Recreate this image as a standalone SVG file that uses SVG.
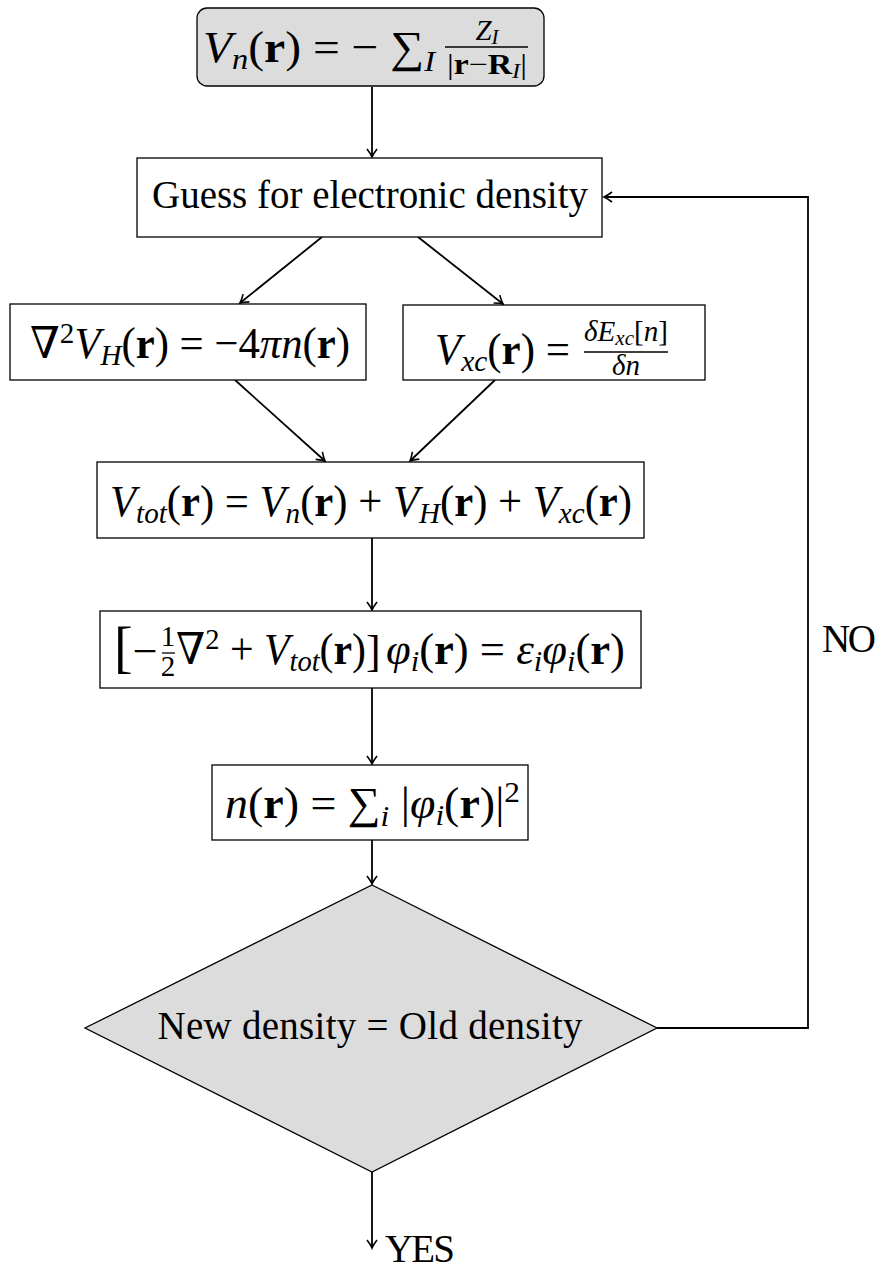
<svg xmlns="http://www.w3.org/2000/svg" width="880" height="1268" viewBox="0 0 880 1268">
<style>
.box{fill:#fff;stroke:#000;stroke-width:1.3}
.gray{fill:#dcdcdc;stroke:#000;stroke-width:1.3}
.t{font-family:"Liberation Serif","DejaVu Serif",serif;font-size:39px;fill:#000}
.m{font-family:"Liberation Serif","DejaVu Serif",serif;font-size:44px;fill:#000}
.f{font-family:"Liberation Serif","DejaVu Serif",serif;font-size:29px;fill:#000}
.i{font-style:italic}
.b{font-weight:bold}
.s{font-size:30px}
.ss{font-size:21px}
.c{stroke:#000;stroke-width:1.8;fill:none}
.fl{stroke:#000;stroke-width:1.3}
</style>
<defs>
<marker id="ah" markerUnits="userSpaceOnUse" markerWidth="14" markerHeight="14" viewBox="-10 -7 12 14" refX="0" refY="0" orient="auto" overflow="visible">
<path d="M-8,-5 Q-3,-1.2 0,0 Q-3,1.2 -8,5" fill="none" stroke="#000" stroke-width="1.6"/>
</marker>
</defs>

<g id="connectors">
<line class="c" x1="372" y1="87" x2="372" y2="157" marker-end="url(#ah)"/>
<line class="c" x1="322" y1="237" x2="240" y2="303" marker-end="url(#ah)"/>
<line class="c" x1="418" y1="237" x2="503" y2="304" marker-end="url(#ah)"/>
<line class="c" x1="235" y1="380" x2="325" y2="461" marker-end="url(#ah)"/>
<line class="c" x1="495" y1="380" x2="410" y2="461" marker-end="url(#ah)"/>
<line class="c" x1="372" y1="538" x2="372" y2="610" marker-end="url(#ah)"/>
<line class="c" x1="372" y1="688" x2="372" y2="764" marker-end="url(#ah)"/>
<line class="c" x1="372" y1="840" x2="372" y2="884" marker-end="url(#ah)"/>
<polyline class="c" points="657,1028 808,1028 808,197 604,197" marker-end="url(#ah)"/>
<line class="c" x1="372" y1="1172" x2="372" y2="1248" marker-end="url(#ah)"/>
<text class="t" x="822" y="652" textLength="54">NO</text>
<text class="t" x="385" y="1262" textLength="70">YES</text>
</g>

<g id="n1">
<rect class="gray" x="197" y="8" width="347" height="78" rx="10"/>
<text class="m" x="203" y="62" font-size="42" textLength="232" lengthAdjust="spacingAndGlyphs"><tspan class="i">V</tspan><tspan class="i s" dy="7">n</tspan><tspan dy="-7">(</tspan><tspan class="b">r</tspan><tspan>) = − ∑</tspan><tspan class="i s" dy="9">I</tspan></text>
<text class="f" x="487" y="40" text-anchor="middle"><tspan class="i">Z</tspan><tspan class="i ss" dy="4">I</tspan></text>
<line class="fl" x1="445" y1="47" x2="528" y2="47"/>
<text class="f" x="487" y="74" text-anchor="middle" textLength="80" lengthAdjust="spacingAndGlyphs">|<tspan class="b">r</tspan>−<tspan class="b">R</tspan><tspan class="i ss" dy="4">I</tspan><tspan dy="-4">|</tspan></text>
</g>

<g id="n2">
<rect class="box" x="137" y="158" width="465" height="79"/>
<text class="t" x="370" y="208" text-anchor="middle" textLength="436">Guess for electronic density</text>
</g>

<g id="n3">
<rect class="box" x="10" y="304" width="356" height="76"/>
<text class="m" x="30" y="358" textLength="320" lengthAdjust="spacingAndGlyphs">∇<tspan class="s" dy="-15">2</tspan><tspan class="i" dy="15">V</tspan><tspan class="i s" dy="7">H</tspan><tspan dy="-7">(</tspan><tspan class="b">r</tspan>) = −4<tspan class="i">πn</tspan>(<tspan class="b">r</tspan>)</text>
</g>

<g id="n4">
<rect class="box" x="403" y="305" width="302" height="75"/>
<text class="m" x="435" y="364" textLength="135" lengthAdjust="spacingAndGlyphs"><tspan class="i">V</tspan><tspan class="i s" dy="7">xc</tspan><tspan dy="-7">(</tspan><tspan class="b">r</tspan>) =</text>
<text class="f" x="626" y="341" text-anchor="middle" textLength="84" lengthAdjust="spacingAndGlyphs"><tspan class="i">δE</tspan><tspan class="i ss" dy="4">xc</tspan><tspan dy="-4">[</tspan><tspan class="i">n</tspan>]</text>
<line class="fl" x1="584" y1="352" x2="668" y2="352"/>
<text class="f" x="626" y="375" text-anchor="middle"><tspan class="i">δn</tspan></text>
</g>

<g id="n5">
<rect class="box" x="97" y="462" width="547" height="76"/>
<text class="m" x="110" y="516" textLength="522" lengthAdjust="spacingAndGlyphs"><tspan class="i">V</tspan><tspan class="i s" dy="7">tot</tspan><tspan dy="-7">(</tspan><tspan class="b">r</tspan>) = <tspan class="i">V</tspan><tspan class="i s" dy="7">n</tspan><tspan dy="-7">(</tspan><tspan class="b">r</tspan>) + <tspan class="i">V</tspan><tspan class="i s" dy="7">H</tspan><tspan dy="-7">(</tspan><tspan class="b">r</tspan>) + <tspan class="i">V</tspan><tspan class="i s" dy="7">xc</tspan><tspan dy="-7">(</tspan><tspan class="b">r</tspan>)</text>
</g>

<g id="n6">
<rect class="box" x="100" y="611" width="541" height="77"/>
<text class="m" x="114" y="666"><tspan font-size="56">[</tspan>−</text>
<text class="f" x="168" y="646" text-anchor="middle" font-size="24">1</text>
<line class="fl" x1="162" y1="653" x2="175" y2="653"/>
<text class="f" x="168" y="676" text-anchor="middle" font-size="24">2</text>
<text class="m" x="176" y="664" textLength="190" lengthAdjust="spacingAndGlyphs">∇<tspan class="s" dy="-15">2</tspan><tspan dy="15"> + </tspan><tspan class="i">V</tspan><tspan class="i s" dy="7">tot</tspan><tspan dy="-7">(</tspan><tspan class="b">r</tspan>)</text>
<text class="m" x="366" y="666" font-size="56">]</text>
<text class="m" x="386" y="664" textLength="239" lengthAdjust="spacingAndGlyphs"><tspan class="i">φ</tspan><tspan class="i s" dy="7">i</tspan><tspan dy="-7">(</tspan><tspan class="b">r</tspan>) = <tspan class="i">ε</tspan><tspan class="i s" dy="7">i</tspan><tspan class="i" dy="-7">φ</tspan><tspan class="i s" dy="7">i</tspan><tspan dy="-7">(</tspan><tspan class="b">r</tspan>)</text>
</g>

<g id="n7">
<rect class="box" x="212" y="765" width="316" height="75"/>
<text class="m" x="225" y="818" textLength="295" lengthAdjust="spacingAndGlyphs"><tspan class="i">n</tspan>(<tspan class="b">r</tspan>) = ∑<tspan class="i s" dy="8">i</tspan><tspan dy="-8"> |</tspan><tspan class="i">φ</tspan><tspan class="i s" dy="7">i</tspan><tspan dy="-7">(</tspan><tspan class="b">r</tspan>)|<tspan class="s" dy="-16">2</tspan></text>
</g>

<g id="n8">
<polygon class="gray" points="372,885 657,1028 372,1172 85,1028"/>
<text class="t" x="370" y="1039" text-anchor="middle" textLength="425">New density = Old density</text>
</g>
</svg>
